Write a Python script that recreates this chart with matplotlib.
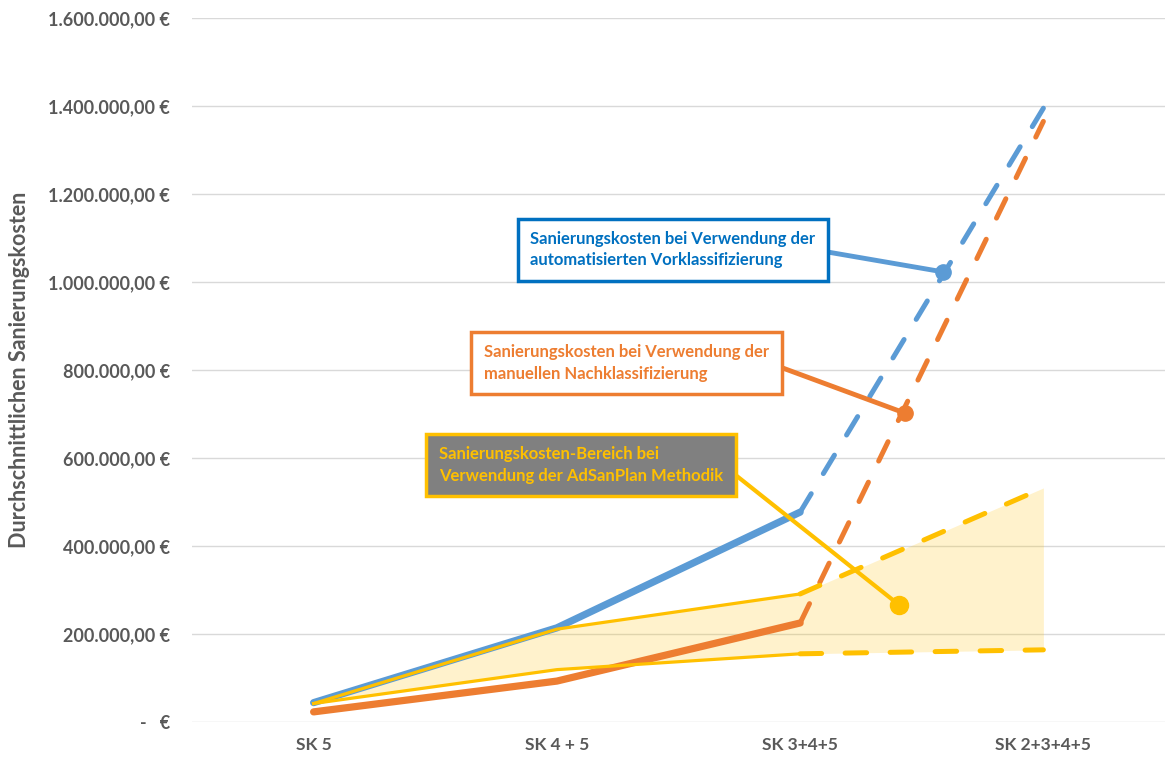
import matplotlib.pyplot as plt

plt.rcParams['font.family'] = ['Lato', 'DejaVu Sans']

categories = ['SK 5', 'SK 4 + 5', 'SK 3+4+5', 'SK 2+3+4+5']
x = [0, 1, 2, 3]

# automatisierte Vorklassifizierung (blau)
auto_solid = [44000, 214000, 477000]
auto_dash = [477000, 1395000]
# manuelle Nachklassifizierung (orange)
manual_solid = [23000, 93000, 225000]
manual_dash = [225000, 1365000]
# AdSanPlan Bereich (gelb), obere und untere Grenze
upper = [42000, 211000, 291000, 532000]
lower = [42000, 119000, 155000, 164000]

yticks = [0, 200000, 400000, 600000, 800000, 1000000, 1200000, 1400000, 1600000]

callout_texts = ['Sanierungskosten bei Verwendung der\nautomatisierten Vorklassifizierung',
                 'Sanierungskosten bei Verwendung der\nmanuellen Nachklassifizierung',
                 'Sanierungskosten-Bereich bei\nVerwendung der AdSanPlan Methodik']
callout_x = [2.587, 2.431, 2.407]
callout_y = [1023000, 702000, 266000]
text_x = [0.89, 0.70, 0.515]
text_y = [1073000, 816000, 584000]

blue = '#5B9BD5'
orange = '#ED7D31'
yellow = '#FFC000'
grey = '#595959'


def euro(v):
    if v == 0:
        return '-   €'
    s = '{:,.2f}'.format(v)
    s = s.replace(',', 'X').replace('.', ',').replace('X', '.')
    return s + ' €'


fig = plt.figure(figsize=(11.65, 7.58), dpi=100)
ax = fig.add_axes([192 / 1165, 36 / 758, 1 - 192 / 1165, 704 / 758])

ax.fill_between(x, lower, upper, color=yellow, alpha=0.2, linewidth=0, zorder=1)

dash_kw = dict(linewidth=3.6, dash_capstyle='round', dashes=(4.3, 4.7), zorder=3)
ax.plot(x[:3], auto_solid, color=blue, linewidth=5.2, solid_capstyle='round', zorder=3)
ax.plot(x[2:], auto_dash, color=blue, **dash_kw)
ax.plot(x[:3], manual_solid, color=orange, linewidth=5.2, solid_capstyle='round', zorder=3)
ax.plot(x[2:], manual_dash, color=orange, **dash_kw)
ax.plot(x[:3], upper[:3], color=yellow, linewidth=2.3, zorder=4)
ax.plot(x[2:], upper[2:], color=yellow, **dict(dash_kw, zorder=4))
ax.plot(x[:3], lower[:3], color=yellow, linewidth=2.3, zorder=4)
ax.plot(x[2:], lower[2:], color=yellow, **dict(dash_kw, zorder=4))

# Beschriftungen mit Linie und Punkt
box_styles = [
    dict(fc='white', ec='#0070C0', tc='#0070C0', lc=blue, ms=11, lw=3.5),
    dict(fc='white', ec=orange, tc=orange, lc=orange, ms=11, lw=3.5),
    dict(fc='#808080', ec=yellow, tc=yellow, lc=yellow, ms=13, lw=3),
]
for i, txt in enumerate(callout_texts):
    st = box_styles[i]
    ax.annotate(txt, xy=(callout_x[i], callout_y[i]), xytext=(text_x[i], text_y[i]),
                ha='left', va='center', fontsize=12, fontweight='bold', color=st['tc'],
                linespacing=1.4, zorder=6,
                bbox=dict(boxstyle='square,pad=0.75', fc=st['fc'], ec=st['ec'], lw=2.5),
                arrowprops=dict(arrowstyle='-', color=st['lc'], lw=st['lw'],
                                shrinkA=0, shrinkB=0, relpos=(1, 0.5)))
    ax.plot(callout_x[i], callout_y[i], 'o', color=st['lc'], markersize=st['ms'], zorder=7)

ax.set_xlim(-0.5, 3.5)
ax.set_ylim(0, 1600000)
ax.set_xticks(x)
ax.set_xticklabels(categories, fontsize=12.5, fontweight='bold', color=grey)
ax.set_yticks(yticks)
ax.set_yticklabels([euro(v) for v in yticks], fontsize=13, fontweight='bold', color=grey)
ax.tick_params(axis='both', length=0)
ax.tick_params(axis='x', pad=11)
ax.tick_params(axis='y', pad=16)
ax.grid(axis='y', color='#D9D9D9', linewidth=1)
ax.set_axisbelow(True)
for sp in ax.spines.values():
    sp.set_visible(False)

ax.set_ylabel('Durchschnittlichen Sanierungskosten', fontsize=15.5, fontweight='bold', color=grey)
ax.yaxis.set_label_coords(-0.166, 0.5)

fig.savefig('out.png', dpi=100)
